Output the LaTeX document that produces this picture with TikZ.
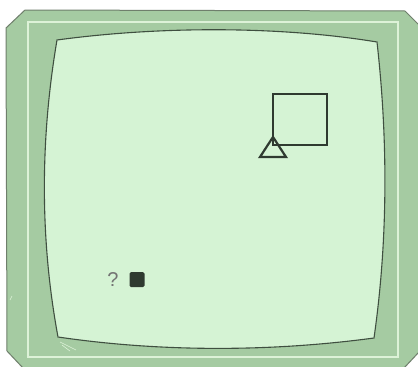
\documentclass[tikz,border=0pt]{standalone}
\usepackage{fontspec}
\setmainfont{Liberation Sans}
\begin{document}
\begin{tikzpicture}[x=1pt,y=-1pt,
  frame/.style={fill=framegreen,draw=framedge,line width=1pt},
  stripe/.style={draw=stripegreen,line width=1.6pt},
  screen/.style={fill=screengreen,draw=screenedge,line width=1.1pt},
  darkline/.style={draw=shapedark,line width=2.2pt},
  scratch/.style={draw=stripegreen,line width=0.6pt}]
\definecolor{framegreen}{HTML}{A5CBA2}
\definecolor{framedge}{HTML}{6F7F6C}
\definecolor{stripegreen}{HTML}{DDF2D8}
\definecolor{screengreen}{HTML}{D5F3D4}
\definecolor{screenedge}{HTML}{3F4F40}
\definecolor{shapedark}{HTML}{2F3A30}
\useasboundingbox (0,0) rectangle (418,367);
\fill[white] (0,0) rectangle (418,367);
% outer frame
\path[frame] (25,10) -- (405,11) -- (419,25) -- (419,352) -- (404,368) -- (23,368) -- (7,351) -- (6,28) -- cycle;
% light stripe
\draw[stripe] (28,22) -- (398,22) -- (398,357) -- (28,357) -- cycle;
% screen
\path[screen] (57,40) .. controls (160,26) and (280,26) .. (377,42)
  .. controls (388,140) and (388,240) .. (374,338)
  .. controls (270,352) and (160,352) .. (58,337)
  .. controls (40,240) and (40,140) .. (57,40) -- cycle;
% scratches
\draw[scratch] (60,342) -- (76,350);
\draw[scratch] (62,345) -- (70,351);
\draw[scratch] (10,300) -- (12,296);
% square and triangle
\node[darkline,minimum width=54pt,minimum height=51pt,inner sep=0pt] (sq) at (300,119.5) {};
\coordinate (apex) at (273,137);
\coordinate (bl) at (260,157);
\coordinate (br) at (286,157);
\draw[darkline,line join=miter] (apex) -- (bl) -- (br) -- cycle;
% question mark and block
\node[text=gray!90!black,font=\fontsize{20}{22}\selectfont,inner sep=0pt,anchor=base] (q) at (113,286) {?};
\node[fill=shapedark,minimum size=15pt,inner sep=0pt,rounded corners=1.5pt] (blk) at (137,279.5) {};
\end{tikzpicture}
\end{document}
